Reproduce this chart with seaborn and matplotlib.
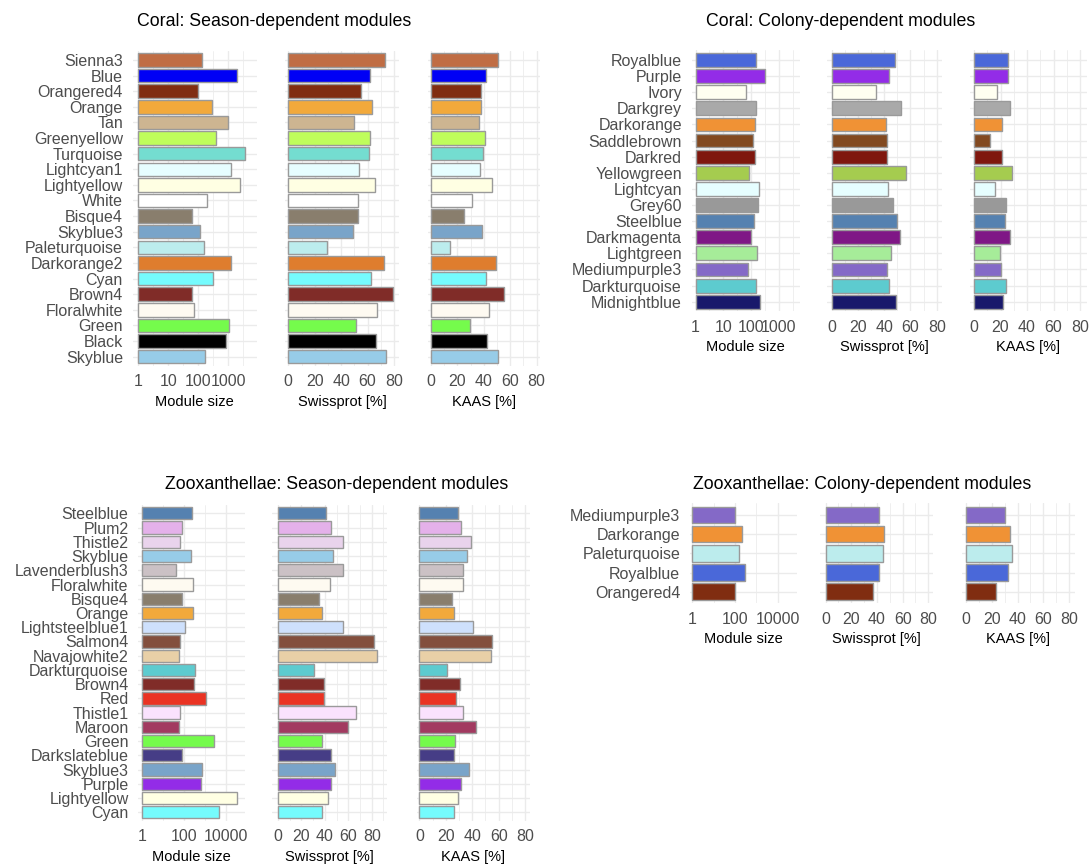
import numpy as np
import pandas as pd
import matplotlib
matplotlib.use("Agg")
import matplotlib.pyplot as plt
import matplotlib.colors as mcolors
from matplotlib.ticker import FixedLocator, FixedFormatter, NullFormatter
import seaborn as sns

# ---------------------------------------------------------------- data
coral_season_modules = ["Sienna3", "Blue", "Orangered4", "Orange", "Tan", "Greenyellow",
                        "Turquoise", "Lightcyan1", "Lightyellow", "White", "Bisque4",
                        "Skyblue3", "Paleturquoise", "Darkorange2", "Cyan", "Brown4",
                        "Floralwhite", "Green", "Black", "Skyblue"]
coral_season_size = [132, 1950, 95, 293, 975, 400, 3700, 1260, 2380, 195, 61,
                     110, 150, 1260, 300, 61, 70, 1100, 830, 170]
coral_season_swissprot = [72.8, 62, 55, 63, 49.5, 62, 61, 53.5, 65.5, 52.5, 53,
                          49, 29, 72.5, 62.5, 79.5, 67, 51, 66, 74]
coral_season_kaas = [51, 41.5, 38, 38, 36, 41, 39.5, 37, 46, 31, 25,
                     39, 14, 49, 41.5, 55, 44, 29.5, 42.5, 51]

coral_colony_modules = ["Royalblue", "Purple", "Ivory", "Darkgrey", "Darkorange",
                        "Saddlebrown", "Darkred", "Yellowgreen", "Lightcyan", "Grey60",
                        "Steelblue", "Darkmagenta", "Lightgreen", "Mediumpurple3",
                        "Darkturquoise", "Midnightblue"]
coral_colony_size = [148, 330, 64, 156, 135, 118, 144, 85, 200, 185, 125, 103,
                     160, 80, 148, 212]
coral_colony_swissprot = [48, 44, 34, 53, 41.5, 42.5, 42, 56.5, 43, 47, 49.5, 52,
                          45, 42.5, 44, 49]
coral_colony_kaas = [25.5, 25.5, 17, 27.5, 21.5, 12, 21.5, 28.5, 16, 24.5, 23.5, 27,
                     19.5, 20, 24, 22]

zoox_season_modules = ["Steelblue", "Plum2", "Thistle2", "Skyblue", "Lavenderblush3",
                       "Floralwhite", "Bisque4", "Orange", "Lightsteelblue1", "Salmon4",
                       "Navajowhite2", "Darkturquoise", "Brown4", "Red", "Thistle1",
                       "Maroon", "Green", "Darkslateblue", "Skyblue3", "Purple",
                       "Lightyellow", "Cyan"]
zoox_season_size = [233, 75, 62, 215, 37, 258, 78, 258, 111, 60, 54, 335, 300,
                    1120, 62, 52, 2600, 75, 690, 645, 32000, 4500]
zoox_season_swissprot = [41.4, 45.7, 55.4, 47.1, 55.7, 44, 35.4, 38, 55.1, 82, 84.9,
                         31.1, 39.1, 39.4, 66.6, 60, 37.7, 45.4, 48.9, 45.1, 42.3, 37.4]
zoox_season_kaas = [29.3, 31.8, 38.9, 36.1, 33.3, 32.8, 24.7, 26, 40.4, 54.8, 54,
                    20.7, 30.6, 27.5, 33.1, 42.7, 26.8, 25.8, 37.6, 31.8, 29, 26.3]

zoox_colony_modules = ["Mediumpurple3", "Darkorange", "Paleturquoise", "Royalblue",
                       "Orangered4"]
zoox_colony_size = [100, 212, 160, 300, 104]
zoox_colony_swissprot = [41.5, 45.5, 44.7, 41.5, 37]
zoox_colony_kaas = [30.5, 34, 36, 32.5, 23]

# R colour names used for the WGCNA modules
r_colours = {
    "sienna3": "#CD6839", "blue": "#0000FF", "orangered4": "#8B2500", "orange": "#FFA500",
    "tan": "#D2B48C", "greenyellow": "#ADFF2F", "turquoise": "#40E0D0",
    "lightcyan1": "#E0FFFF", "lightyellow": "#FFFFE0", "white": "#FFFFFF",
    "bisque4": "#8B7D6B", "skyblue3": "#6CA6CD", "paleturquoise": "#AFEEEE",
    "darkorange2": "#EE7600", "cyan": "#00FFFF", "brown4": "#8B2323",
    "floralwhite": "#FFFAF0", "green": "#00FF00", "black": "#000000",
    "skyblue": "#87CEEB", "royalblue": "#4169E1", "purple": "#A020F0",
    "ivory": "#FFFFF0", "darkgrey": "#A9A9A9", "darkorange": "#FF8C00",
    "saddlebrown": "#8B4513", "darkred": "#8B0000", "yellowgreen": "#9ACD32",
    "lightcyan": "#E0FFFF", "grey60": "#999999", "steelblue": "#4682B4",
    "darkmagenta": "#8B008B", "lightgreen": "#90EE90", "mediumpurple3": "#8968CD",
    "darkturquoise": "#00CED1", "midnightblue": "#191970", "plum2": "#EEAEEE",
    "thistle2": "#EED2EE", "lavenderblush3": "#CDC1C5", "lightsteelblue1": "#CAE1FF",
    "salmon4": "#8B4C39", "navajowhite2": "#EECFA1", "red": "#FF0000",
    "thistle1": "#FFE1FF", "maroon": "#B03060", "darkslateblue": "#483D8B",
}


def display_p3(hexcol):
    """Express an sRGB colour in Display-P3 coordinates."""
    rgb = np.array(mcolors.to_rgb(hexcol))
    lin = np.where(rgb <= 0.04045, rgb / 12.92, ((rgb + 0.055) / 1.055) ** 2.4)
    m = np.array([[0.8225, 0.1774, 0.0000],
                  [0.0332, 0.9669, 0.0000],
                  [0.0171, 0.0724, 0.9108]])
    out = np.clip(m @ lin, 0, 1)
    enc = np.where(out <= 0.0031308, out * 12.92, 1.055 * out ** (1 / 2.4) - 0.055)
    return mcolors.to_hex(np.clip(enc, 0, 1))


palette = {name.capitalize(): display_p3(col) for name, col in r_colours.items()}

# ---------------------------------------------------------------- style
sns.set_theme(style="white")
plt.rcParams["font.family"] = ["Liberation Sans", "DejaVu Sans"]

W, H = 1090, 864
GRID = "#EBEBEB"
EDGE = "#9A9A9A"
TICK_COLOUR = "#4D4D4D"
TICK_SIZE = 11.5
LABEL_SIZE = 10.5
TITLE_SIZE = 12.8

fig = plt.figure(figsize=(W / 100, H / 100), dpi=100)


def add_px_axes(x0, x1, y0, y1):
    return fig.add_axes([x0 / W, 1 - y1 / H, (x1 - x0) / W, (y1 - y0) / H])


def draw_panel(ax, modules, values, kind, xlim, show_names):
    df = pd.DataFrame({"module": modules, "value": values})
    extra = {"left": 1} if kind != "pct" else {}
    sns.barplot(data=df, x="value", y="module", hue="module", palette=palette,
                saturation=1, legend=False, errorbar=None, width=0.86,
                edgecolor=EDGE, linewidth=1.0, ax=ax, **extra)
    n = len(modules)
    ax.set_ylim(n - 0.4, -0.6)
    if kind == "pct":
        ax.set_xlim(*xlim)
        ax.xaxis.set_major_locator(FixedLocator([0, 20, 40, 60, 80]))
        ax.xaxis.set_major_formatter(FixedFormatter(["0", "20", "40", "60", "80"]))
        ax.xaxis.set_minor_locator(FixedLocator([10, 30, 50, 70, 90]))
    else:
        ax.set_xscale("log")
        ax.set_xlim(10 ** xlim[0], 10 ** xlim[1])
        if kind == "log1":
            major = [1, 10, 100, 1000]
            minor = [10 ** 0.5, 10 ** 1.5, 10 ** 2.5, 10 ** 3.5]
        else:
            major = [1, 100, 10000]
            minor = [10, 1000]
        ax.xaxis.set_major_locator(FixedLocator(major))
        ax.xaxis.set_major_formatter(FixedFormatter([str(v) for v in major]))
        ax.xaxis.set_minor_locator(FixedLocator(minor))
    ax.xaxis.set_minor_formatter(NullFormatter())
    ax.set_axisbelow(True)
    ax.grid(True, which="major", axis="both", color=GRID, linewidth=1.0)
    ax.grid(True, which="minor", axis="x", color=GRID, linewidth=0.55)
    for sp in ax.spines.values():
        sp.set_visible(False)
    ax.tick_params(axis="both", which="both", length=0, labelsize=TICK_SIZE,
                   labelcolor=TICK_COLOUR)
    ax.tick_params(axis="x", pad=6)
    ax.tick_params(axis="y", pad=7)
    ax.set_ylabel("")
    if not show_names:
        ax.set_yticklabels([])
    ax.set_facecolor("white")


groups = [
    dict(title="Coral: Season-dependent modules", tx=274, ty=22,
         modules=coral_season_modules,
         series=[coral_season_size, coral_season_swissprot, coral_season_kaas],
         kinds=["log1", "pct", "pct"],
         xs=[(132.7, 256.7), (285, 399.3), (428, 540)],
         ys=(50.6, 366),
         lims=[(-0.19, 3.95), (-2.5, 84), (-2.3, 82.6)]),
    dict(title="Coral: Colony-dependent modules", tx=841, ty=22,
         modules=coral_colony_modules,
         series=[coral_colony_size, coral_colony_swissprot, coral_colony_kaas],
         kinds=["log1", "pct", "pct"],
         xs=[(691.7, 800), (826.7, 941.7), (970, 1086.7)],
         ys=(50.3, 311.4),
         lims=[(-0.14, 3.77), (-3.8, 83.8), (-3.0, 85)]),
    dict(title="Zooxanthellae: Season-dependent modules", tx=337, ty=484,
         modules=zoox_season_modules,
         series=[zoox_season_size, zoox_season_swissprot, zoox_season_kaas],
         kinds=["log2", "pct", "pct"],
         xs=[(138.3, 245), (272, 387), (416.7, 530)],
         ys=(504.8, 820.8),
         lims=[(-0.2, 4.9), (-5, 93), (-2.1, 83.7)]),
    dict(title="Zooxanthellae: Colony-dependent modules", tx=862, ty=484,
         modules=zoox_colony_modules,
         series=[zoox_colony_size, zoox_colony_swissprot, zoox_colony_kaas],
         kinds=["log2", "pct", "pct"],
         xs=[(690, 796.7), (820, 933.3), (961.7, 1075)],
         ys=(503.5, 603.2),
         lims=[(-0.1, 4.88), (-4.4, 83.9), (-3.3, 84.5)]),
]

axis_titles = ["Module size", "Swissprot [%]", "KAAS [%]"]

for g in groups:
    for i in range(3):
        x0, x1 = g["xs"][i]
        ax = add_px_axes(x0, x1, g["ys"][0], g["ys"][1])
        draw_panel(ax, g["modules"], g["series"][i], g["kinds"][i], g["lims"][i],
                   show_names=(i == 0))
        ax.set_xlabel(axis_titles[i], fontsize=LABEL_SIZE, color="black", labelpad=4)
    fig.text(g["tx"] / W, 1 - g["ty"] / H, g["title"], ha="center", va="center",
             fontsize=TITLE_SIZE, color="black")

fig.savefig("out.png", dpi=100, facecolor="white")
